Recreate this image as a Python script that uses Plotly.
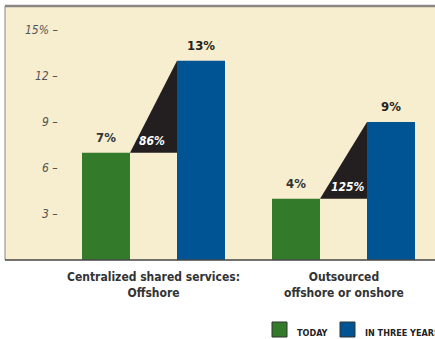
import plotly.graph_objects as go

categories = ["Centralized shared services:<br>Offshore", "Outsourced<br>offshore or onshore"]
today = [7, 4]
three_years = [13, 9]
increase_labels = ["86%", "125%"]
today_labels = ["7%", "4%"]
future_labels = ["13%", "9%"]
y_ticks = [3, 6, 9, 12, 15]
y_tick_text = ["3 \u2013", "6 \u2013", "9 \u2013", "12 \u2013", "15% \u2013"]
series_names = ["TODAY", "IN THREE YEARS"]

GREEN = "#347a2b"
BLUE = "#005493"
BLACK = "#231f20"
CREAM = "#f7edcf"
FONT = "Liberation Sans Narrow, DejaVu Sans Condensed, Roboto, sans-serif"

xc = list(range(len(categories)))
off = 0.25
bw = 0.2526

fig = go.Figure()
fig.add_trace(go.Bar(x=[c - off for c in xc], y=today, width=bw, marker=dict(color=GREEN, line=dict(width=0)),
                     name=series_names[0], showlegend=False, hoverinfo="skip"))
fig.add_trace(go.Bar(x=[c + off for c in xc], y=three_years, width=bw, marker=dict(color=BLUE, line=dict(width=0)),
                     name=series_names[1], showlegend=False, hoverinfo="skip"))

for i, c in enumerate(xc):
    x0 = c - off + bw / 2
    x1 = c + off - bw / 2
    fig.add_trace(go.Scatter(x=[x0, x1, x1, x0], y=[today[i], three_years[i], today[i], today[i]],
                             mode="lines", fill="toself", fillcolor=BLACK, line=dict(width=0, color=BLACK),
                             showlegend=False, hoverinfo="skip"))

annotations = []
dx_inc = [-0.008, 0.024]
for i, c in enumerate(xc):
    annotations.append(dict(x=c - off, y=today[i], xref="x", yref="y", text=f"<b>{today_labels[i]}</b>",
                            showarrow=False, yanchor="bottom", yshift=6, font=dict(family=FONT, size=13, color="#333")))
    annotations.append(dict(x=c + off, y=three_years[i], xref="x", yref="y", text=f"<b>{future_labels[i]}</b>",
                            showarrow=False, yanchor="bottom", yshift=6, font=dict(family=FONT, size=13, color="#222")))
    annotations.append(dict(x=c + dx_inc[i], y=today[i], xref="x", yref="y", text=f"<b><i>{increase_labels[i]}</i></b>",
                            showarrow=False, yanchor="bottom", yshift=3, font=dict(family=FONT, size=12, color="white")))
    annotations.append(dict(x=c, y=0, xref="x", yref="y", text=f"<b>{categories[i]}</b>", showarrow=False,
                            yanchor="top", yshift=-8, font=dict(family=FONT, size=12, color="#333")))

for v, t in zip(y_ticks, y_tick_text):
    annotations.append(dict(x=-0.49, y=v, xref="x", yref="y", text=f"<i>{t}</i>", showarrow=False,
                            xanchor="right", font=dict(family=FONT, size=12, color="#555")))

# legend
def px2x(px):
    return (px - 5) / 430.0

def py2y(py):
    return (260 - py) / 254.0

shapes = []
leg = [(272, GREEN, series_names[0]), (340, BLUE, series_names[1])]
for px, col, name in leg:
    shapes.append(dict(type="rect", xref="paper", yref="paper", x0=px2x(px), x1=px2x(px + 15),
                       y0=py2y(337), y1=py2y(322), fillcolor=col, line=dict(color="#333", width=1)))
    annotations.append(dict(x=px2x(px + 23), y=py2y(330), xref="paper", yref="paper", text=f"<b>{name}</b>",
                            showarrow=False, xanchor="left", yanchor="middle", yshift=-3,
                            font=dict(family=FONT, size=9, color="#222")))

# frame lines
shapes.append(dict(type="line", xref="paper", yref="paper", x0=0, x1=1.05, y0=1, y1=1, line=dict(color="#8a8683", width=2.5)))
shapes.append(dict(type="line", xref="paper", yref="paper", x0=0, x1=0, y0=0, y1=1, line=dict(color="#8a8683", width=1)))
shapes.append(dict(type="line", xref="paper", yref="paper", x0=0, x1=1.05, y0=0, y1=0, line=dict(color="#444", width=1.5)))

fig.update_layout(
    width=435, height=339,
    margin=dict(l=5, r=0, t=6, b=79),
    paper_bgcolor="white", plot_bgcolor=CREAM,
    barmode="overlay",
    xaxis=dict(range=[-0.7816, 1.4816], showticklabels=False, showgrid=False, zeroline=False, ticks=""),
    yaxis=dict(range=[0, 16.57], showticklabels=False, showgrid=False, zeroline=False, ticks=""),
    annotations=annotations, shapes=shapes,
    showlegend=False,
)

fig.write_html("out.html")
